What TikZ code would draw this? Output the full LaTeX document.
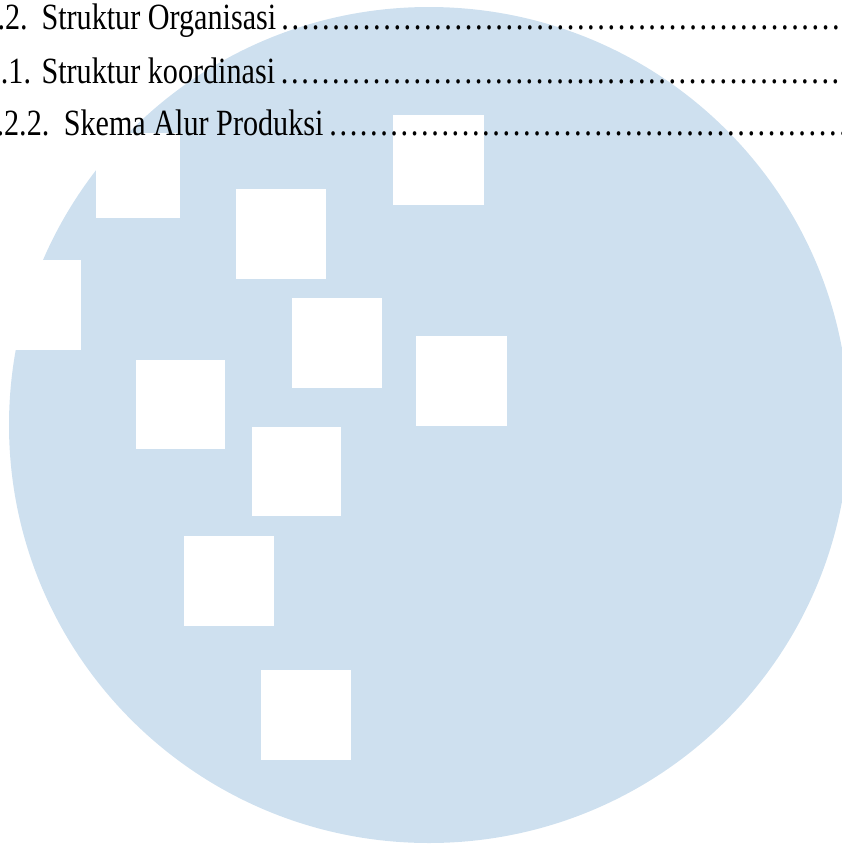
\documentclass[tikz,border=0pt]{standalone}
\usepackage{fontspec}
\setmainfont{Liberation Serif}
\definecolor{disc}{RGB}{206,224,239}
\newcommand{\tocsq}[1]{\scalebox{0.815}[1]{#1}}
\newcommand{\tocdots}{\scalebox{0.827}[1]{…………………………………………………}}
\begin{document}
\begin{tikzpicture}[x=1pt,y=-1pt,
  toc/.style={anchor=base west, inner sep=0pt, outer sep=0pt, font=\fontsize{37}{37}\selectfont},
  hole/.style={fill=white}]
\useasboundingbox (0,0) rectangle (842,846);
% disc
\fill[disc] (429,425) ellipse [x radius=420pt, y radius=418pt];
% white squares
\fill[hole] (96,133) rectangle (180.3,217.7);
\fill[hole] (-10,260) rectangle (80.7,350);
\fill[hole] (393.3,114.7) rectangle (483.7,204.7);
\fill[hole] (236,189.3) rectangle (326.3,279.3);
\fill[hole] (292.3,298.3) rectangle (382.3,387.7);
\fill[hole] (416,335.7) rectangle (506.7,426);
\fill[hole] (135.7,360) rectangle (225,449);
\fill[hole] (252,426.7) rectangle (341.3,515.7);
\fill[hole] (184.3,536.3) rectangle (274,625.7);
\fill[hole] (261.3,669.7) rectangle (351.3,759.7);
% table of contents lines
\node[toc] (n1) at (-2.4,29.5) {\tocsq{.2.}};
\node[toc] (t1) at (41.5,29.5) {\tocsq{Struktur Organisasi}};
\node[toc] (d1) at (280,29.5) {\tocdots};
\node[toc] (n2) at (0.9,83) {\tocsq{.1.}};
\node[toc] (t2) at (41.5,83) {\tocsq{Struktur koordinasi}};
\node[toc] (d2) at (279.7,83) {\tocdots};
\node[toc] (n3) at (-3.4,135.5) {\tocsq{.2.2.}};
\node[toc] (t3) at (63.8,135.5) {\tocsq{Skema Alur Produksi}};
\node[toc] (d3) at (328,135.5) {\tocdots};
\end{tikzpicture}
\end{document}
